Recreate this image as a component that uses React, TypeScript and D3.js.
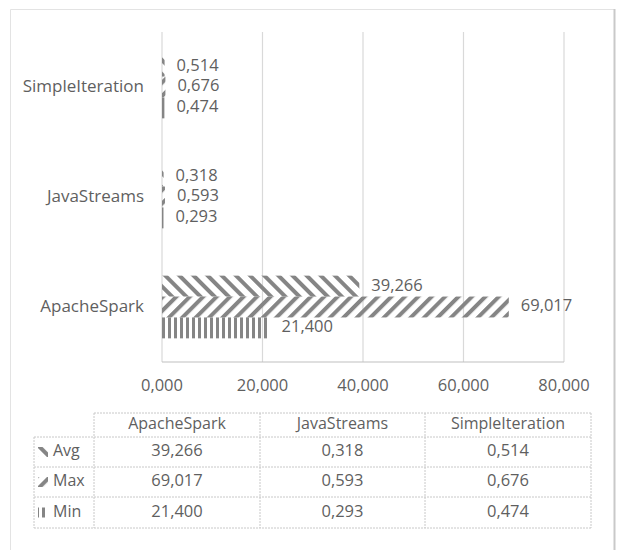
import * as React from "react";
import * as d3 from "d3";

const categories = ["ApacheSpark", "JavaStreams", "SimpleIteration"];
const seriesNames = ["Avg", "Max", "Min"];
const avgValues = [39.266, 0.318, 0.514];
const maxValues = [69.017, 0.593, 0.676];
const minValues = [21.4, 0.293, 0.474];
const xTicks = [0, 20, 40, 60, 80];

const seriesValues = [avgValues, maxValues, minValues];
const patternIds = ["patAvg", "patMax", "patMin"];

const fmt = (v: number) => d3.format(".3f")(v).replace(".", ",");

const textColor = "#5f5f5f";
const gridColor = "#d9d9d9";
const stripe = "#858585";
const font = "'Open Sans', sans-serif";

export default function App() {
  const margin = { left: 162, right: 53, top: 32, bottom: 188 };
  const W = 617, H = 550;

  const x = d3.scaleLinear().domain([0, 80]).range([margin.left, W - margin.right]);
  const y = d3
    .scaleBand()
    .domain([...categories].reverse())
    .range([margin.top, H - margin.bottom])
    .paddingInner(0.43)
    .paddingOuter(0.215);
  const ySub = d3.scaleBand().domain(seriesNames).range([0, y.bandwidth()]);

  // table layout
  const colX = [34, 94, 260, 425, 591];
  const rowY = [413, 437, 467, 497, 528];
  const tableLine = "#c8c8c8";

  return (
    <div style={{ position: "absolute", left: 0, top: 0 }}>
      <svg width={W} height={H} style={{ display: "block", fontFamily: font }}>
        <defs>
          <pattern id="patAvg" patternUnits="userSpaceOnUse" width={10} height={10} patternTransform="rotate(-45)">
            <rect x={0} y={0} width={4} height={10} fill={stripe} />
          </pattern>
          <pattern id="patMax" patternUnits="userSpaceOnUse" width={9.5} height={10} patternTransform="rotate(45)">
            <rect x={0} y={0} width={4} height={10} fill={stripe} />
          </pattern>
          <pattern id="patMin" patternUnits="userSpaceOnUse" width={6} height={10}>
            <rect x={0} y={0} width={3} height={10} fill={stripe} />
          </pattern>
        </defs>

        <rect x={0} y={0} width={W} height={H} fill="#fff" />
        {/* chart frame */}
        <path d={`M10.5,${H} V9.5 H614.5`} fill="none" stroke="#e3e3e3" />
        <line x1={614.5} x2={614.5} y1={9} y2={H} stroke="#c9c9c9" strokeWidth={2} />

        {/* grid */}
        {xTicks.map((t) => (
          <line key={t} x1={x(t)} x2={x(t)} y1={margin.top} y2={H - margin.bottom}
            stroke={gridColor} strokeWidth={1.2} />
        ))}
        <line x1={x(0)} x2={x(80)} y1={H - margin.bottom} y2={H - margin.bottom} stroke="#bfbfbf" strokeWidth={1.2} />

        {xTicks.map((t) => (
          <text key={t} x={x(t)} y={H - margin.bottom + 25} textAnchor="middle" dominantBaseline="middle"
            fontSize={16.5} fill={textColor}>{fmt(t)}</text>
        ))}

        {categories.map((c) => (
          <text key={c} x={144} y={(y(c) as number) + y.bandwidth() / 2} textAnchor="end"
            dominantBaseline="middle" fontSize={17} fill={textColor}>{c}</text>
        ))}

        {/* bars */}
        {categories.map((c, ci) =>
          seriesNames.map((s, si) => {
            const v = seriesValues[si][ci];
            const by = (y(c) as number) + (ySub(s) as number);
            return (
              <g key={c + s}>
                <rect x={x(0)} y={by} width={x(v) - x(0)} height={ySub.bandwidth()}
                  fill={`url(#${patternIds[si]})`} />
                <text x={x(v) + 12} y={by + ySub.bandwidth() / 2} dominantBaseline="middle"
                  fontSize={16.5} fill={textColor}>{fmt(v)}</text>
              </g>
            );
          })
        )}

        {/* data table */}
        <g stroke={tableLine} strokeWidth={1} strokeDasharray="2,1" fill="none">
          <line x1={colX[1]} x2={colX[4]} y1={rowY[0]} y2={rowY[0]} />
          {rowY.slice(1).map((ry) => (
            <line key={ry} x1={colX[0]} x2={colX[4]} y1={ry} y2={ry} />
          ))}
          <line x1={colX[0]} x2={colX[0]} y1={rowY[1]} y2={rowY[4]} />
          {colX.slice(1).map((cx) => (
            <line key={cx} x1={cx} x2={cx} y1={rowY[0]} y2={rowY[4]} />
          ))}
        </g>
        {categories.map((c, ci) => (
          <text key={c} x={(colX[ci + 1] + colX[ci + 2]) / 2} y={(rowY[0] + rowY[1]) / 2}
            textAnchor="middle" dominantBaseline="middle" fontSize={16} fill={textColor}>{c}</text>
        ))}
        {seriesNames.map((s, si) => {
          const cy = (rowY[si + 1] + rowY[si + 2]) / 2;
          return (
            <g key={s}>
              <rect x={38} y={cy - 5} width={10} height={10} fill={`url(#${patternIds[si]})`} />
              <text x={53} y={cy} dominantBaseline="middle" fontSize={16} fill={textColor}>{s}</text>
              {categories.map((c, ci) => (
                <text key={c} x={(colX[ci + 1] + colX[ci + 2]) / 2} y={cy} textAnchor="middle"
                  dominantBaseline="middle" fontSize={16.5} fill={textColor}>{fmt(seriesValues[si][ci])}</text>
              ))}
            </g>
          );
        })}
      </svg>
    </div>
  );
}
